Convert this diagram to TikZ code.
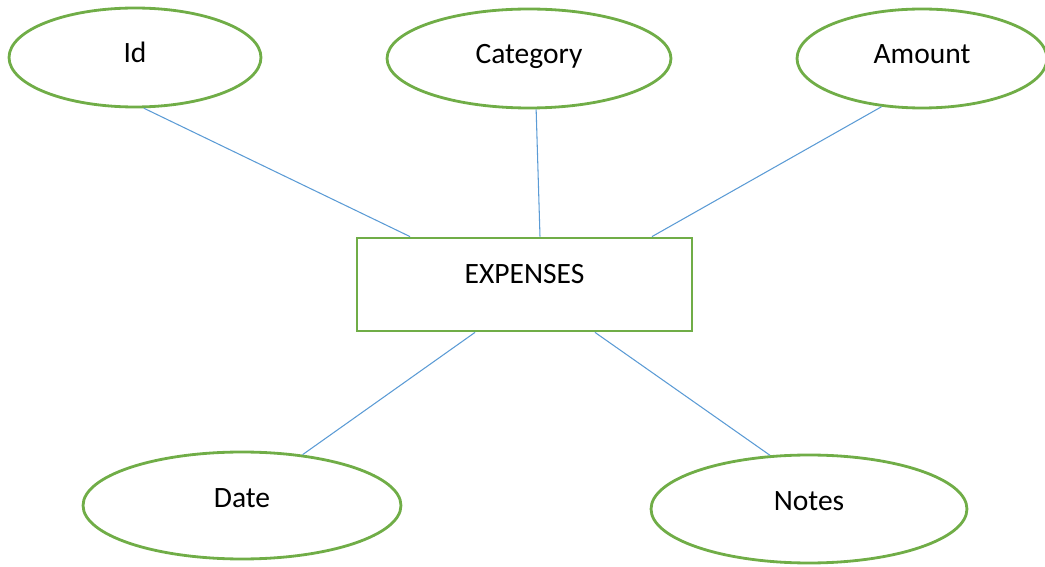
\documentclass[tikz,border=0pt]{standalone}
\usepackage{fontspec}
\setmainfont{Carlito}
\usetikzlibrary{shapes.geometric}
\definecolor{attrgreen}{RGB}{112,173,71}
\definecolor{linkblue}{RGB}{91,155,213}
\tikzset{
  attr/.style={ellipse, draw=attrgreen, line width=1.6pt, text height=0.7em, text depth=0.1em},
  attrlow/.style={attr, text depth=0.5em},
  entity/.style={rectangle, draw=attrgreen, line width=1.6pt, minimum width=6.7cm, minimum height=1.86cm, text height=0.7em, text depth=0.8em},
  link/.style={draw=linkblue, line width=0.6pt}
}

\begin{document}
\begin{tikzpicture}[x=0.02cm, y=-0.02cm, font=\fontsize{16.8}{20}\selectfont]
\useasboundingbox (0,0) rectangle (1045,567);

\node[attr, minimum width=5.04cm, minimum height=1.98cm] (id) at (135,57.5) {Id};
\node[attr, minimum width=5.68cm, minimum height=1.98cm] (cat) at (529,58.5) {Category};
\node[attr, minimum width=5.0cm, minimum height=1.98cm] (amt) at (922,58.5) {Amount};
\node[entity] (exp) at (524.5,284.5) {EXPENSES};
\node[attrlow, minimum width=6.36cm, minimum height=2.14cm] (date) at (242,505.5) {Date};
\node[attrlow, minimum width=6.32cm, minimum height=2.16cm] (notes) at (809,509) {Notes};

\draw[link] (id.280) to ([xshift=-2.29cm]exp.north);
\draw[link] (cat.278) to ([xshift=0.31cm]exp.north);
\draw[link] (amt.230) to ([xshift=2.55cm]exp.north);
\draw[link] ([xshift=-0.99cm]exp.south) to (date.40);
\draw[link] ([xshift=1.41cm]exp.south) to (notes.126);
\end{tikzpicture}
\end{document}
